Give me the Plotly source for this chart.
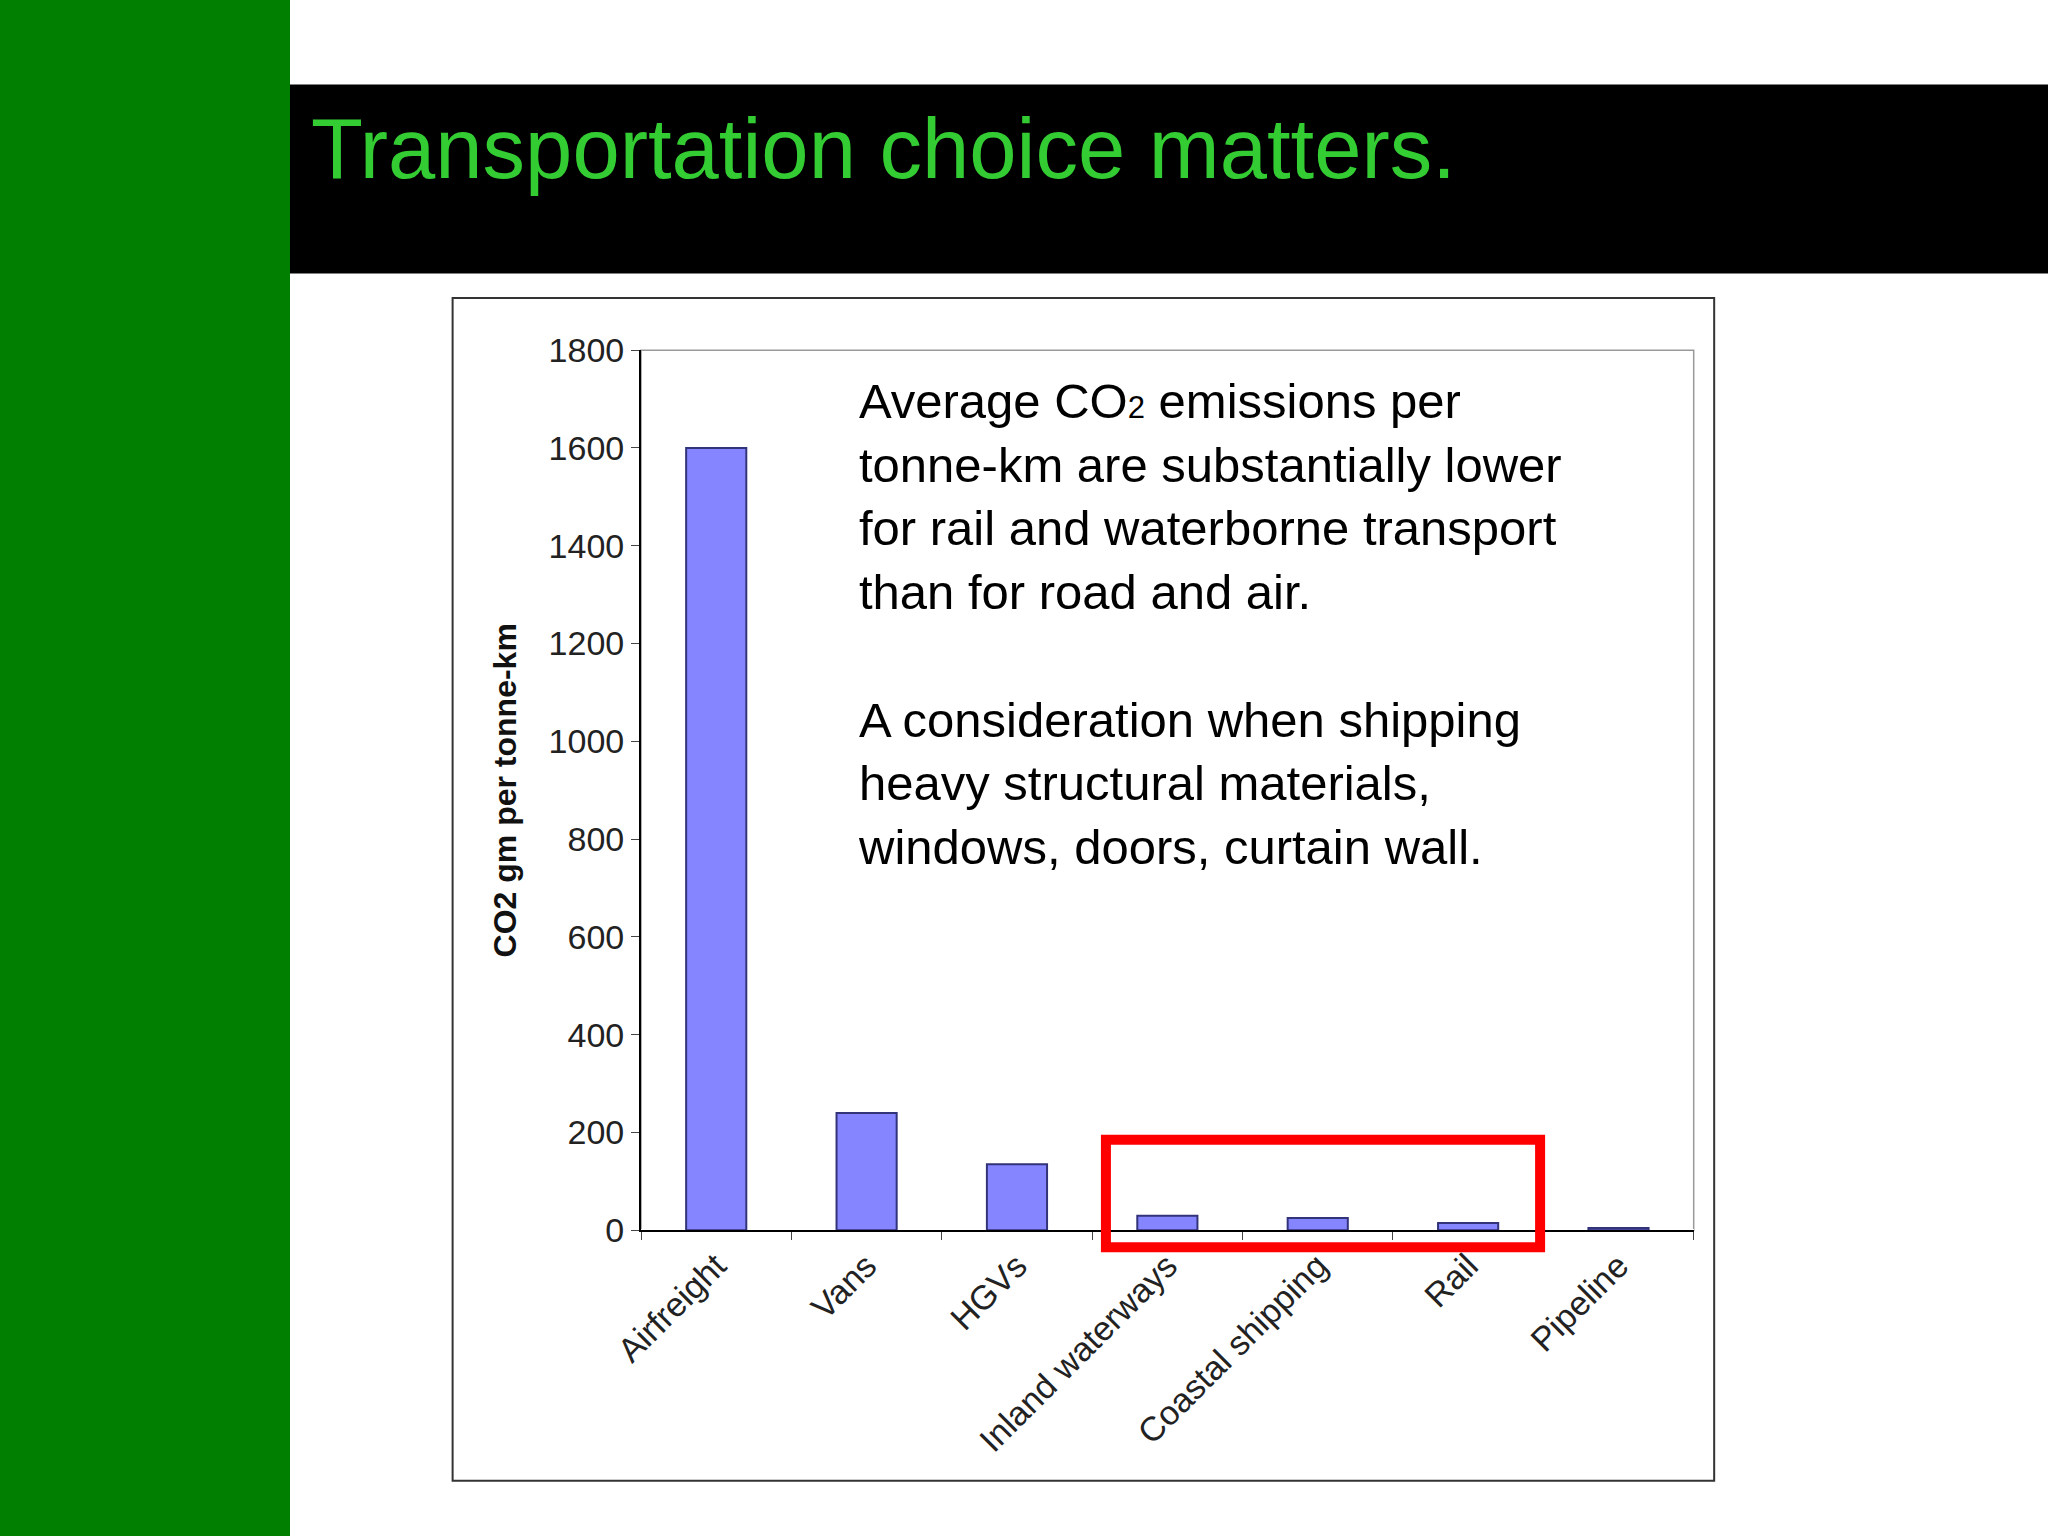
import plotly.graph_objects as go

categories = ["Airfreight", "Vans", "HGVs", "Inland waterways", "Coastal shipping", "Rail", "Pipeline"]
values = [1600, 240, 135, 30, 25, 15, 5]
y_ticks = [0, 200, 400, 600, 800, 1000, 1200, 1400, 1600, 1800]

fig = go.Figure(go.Bar(x=categories, y=values, width=0.4,
                       marker=dict(color="#8585FF", line=dict(color="#33337a", width=2))))

shapes = [
    dict(type="rect", xref="paper", yref="paper", x0=0, x1=0.1416, y0=0, y1=1, fillcolor="#007f00", line_width=0, layer="below"),
    dict(type="rect", xref="paper", yref="paper", x0=0.1416, x1=1, y0=0.822, y1=0.945, fillcolor="black", line_width=0, layer="below"),
    dict(type="rect", xref="paper", yref="paper", x0=0.221, x1=0.837, y0=0.036, y1=0.806, line=dict(color="#333", width=2), layer="below"),
    dict(type="rect", xref="paper", yref="paper", x0=0.313, x1=0.827, y0=0.199, y1=0.772, line=dict(color="#999", width=1.5), layer="below"),
    dict(type="rect", xref="paper", yref="paper", x0=0.540, x1=0.752, y0=0.188, y1=0.258, line=dict(color="#ff0000", width=10)),
]

text = ("Average CO<span style='font-size:31px'>2</span> emissions per<br>tonne-km are substantially lower<br>"
        "for rail and waterborne transport<br>than for road and air.<br><br>"
        "A consideration when shipping<br>heavy structural materials,<br>windows, doors, curtain wall.")

fig.update_layout(
    width=2048, height=1536, margin=dict(l=0, r=0, t=0, b=0, autoexpand=False),
    paper_bgcolor="white", plot_bgcolor="white", showlegend=False,
    font=dict(family="Liberation Sans, Arial", color="#222"),
    shapes=shapes,
    annotations=[
        dict(text="Transportation choice matters.", xref="paper", yref="paper", x=0.151, y=0.903,
             xanchor="left", yanchor="middle", showarrow=False, font=dict(size=85, color="#33cc33")),
        dict(text=text, xref="paper", yref="paper", x=0.418, y=0.758, xanchor="left", yanchor="top",
             align="left", showarrow=False, font=dict(size=49, color="black")),
    ],
    xaxis=dict(domain=[0.313, 0.827], showline=True, linecolor="black", linewidth=2,
               ticks="outside", tickson="boundaries", ticklen=8, tickangle=-45, automargin=False,
               tickfont=dict(size=34, color="#222")),
    yaxis=dict(domain=[0.199, 0.772], range=[0, 1800], tickvals=y_ticks, showline=True, automargin=False,
               linecolor="black", linewidth=2, ticks="outside", ticklen=8, showgrid=False,
               tickfont=dict(size=34, color="#222"),
               title=dict(text="<b>CO2 gm per tonne-km</b>", font=dict(size=32, color="#111"), standoff=22)),
)
fig.write_html("out.html", config={"displayModeBar": False},
               post_script="document.body.style.margin='0';document.body.style.overflow='hidden';")
